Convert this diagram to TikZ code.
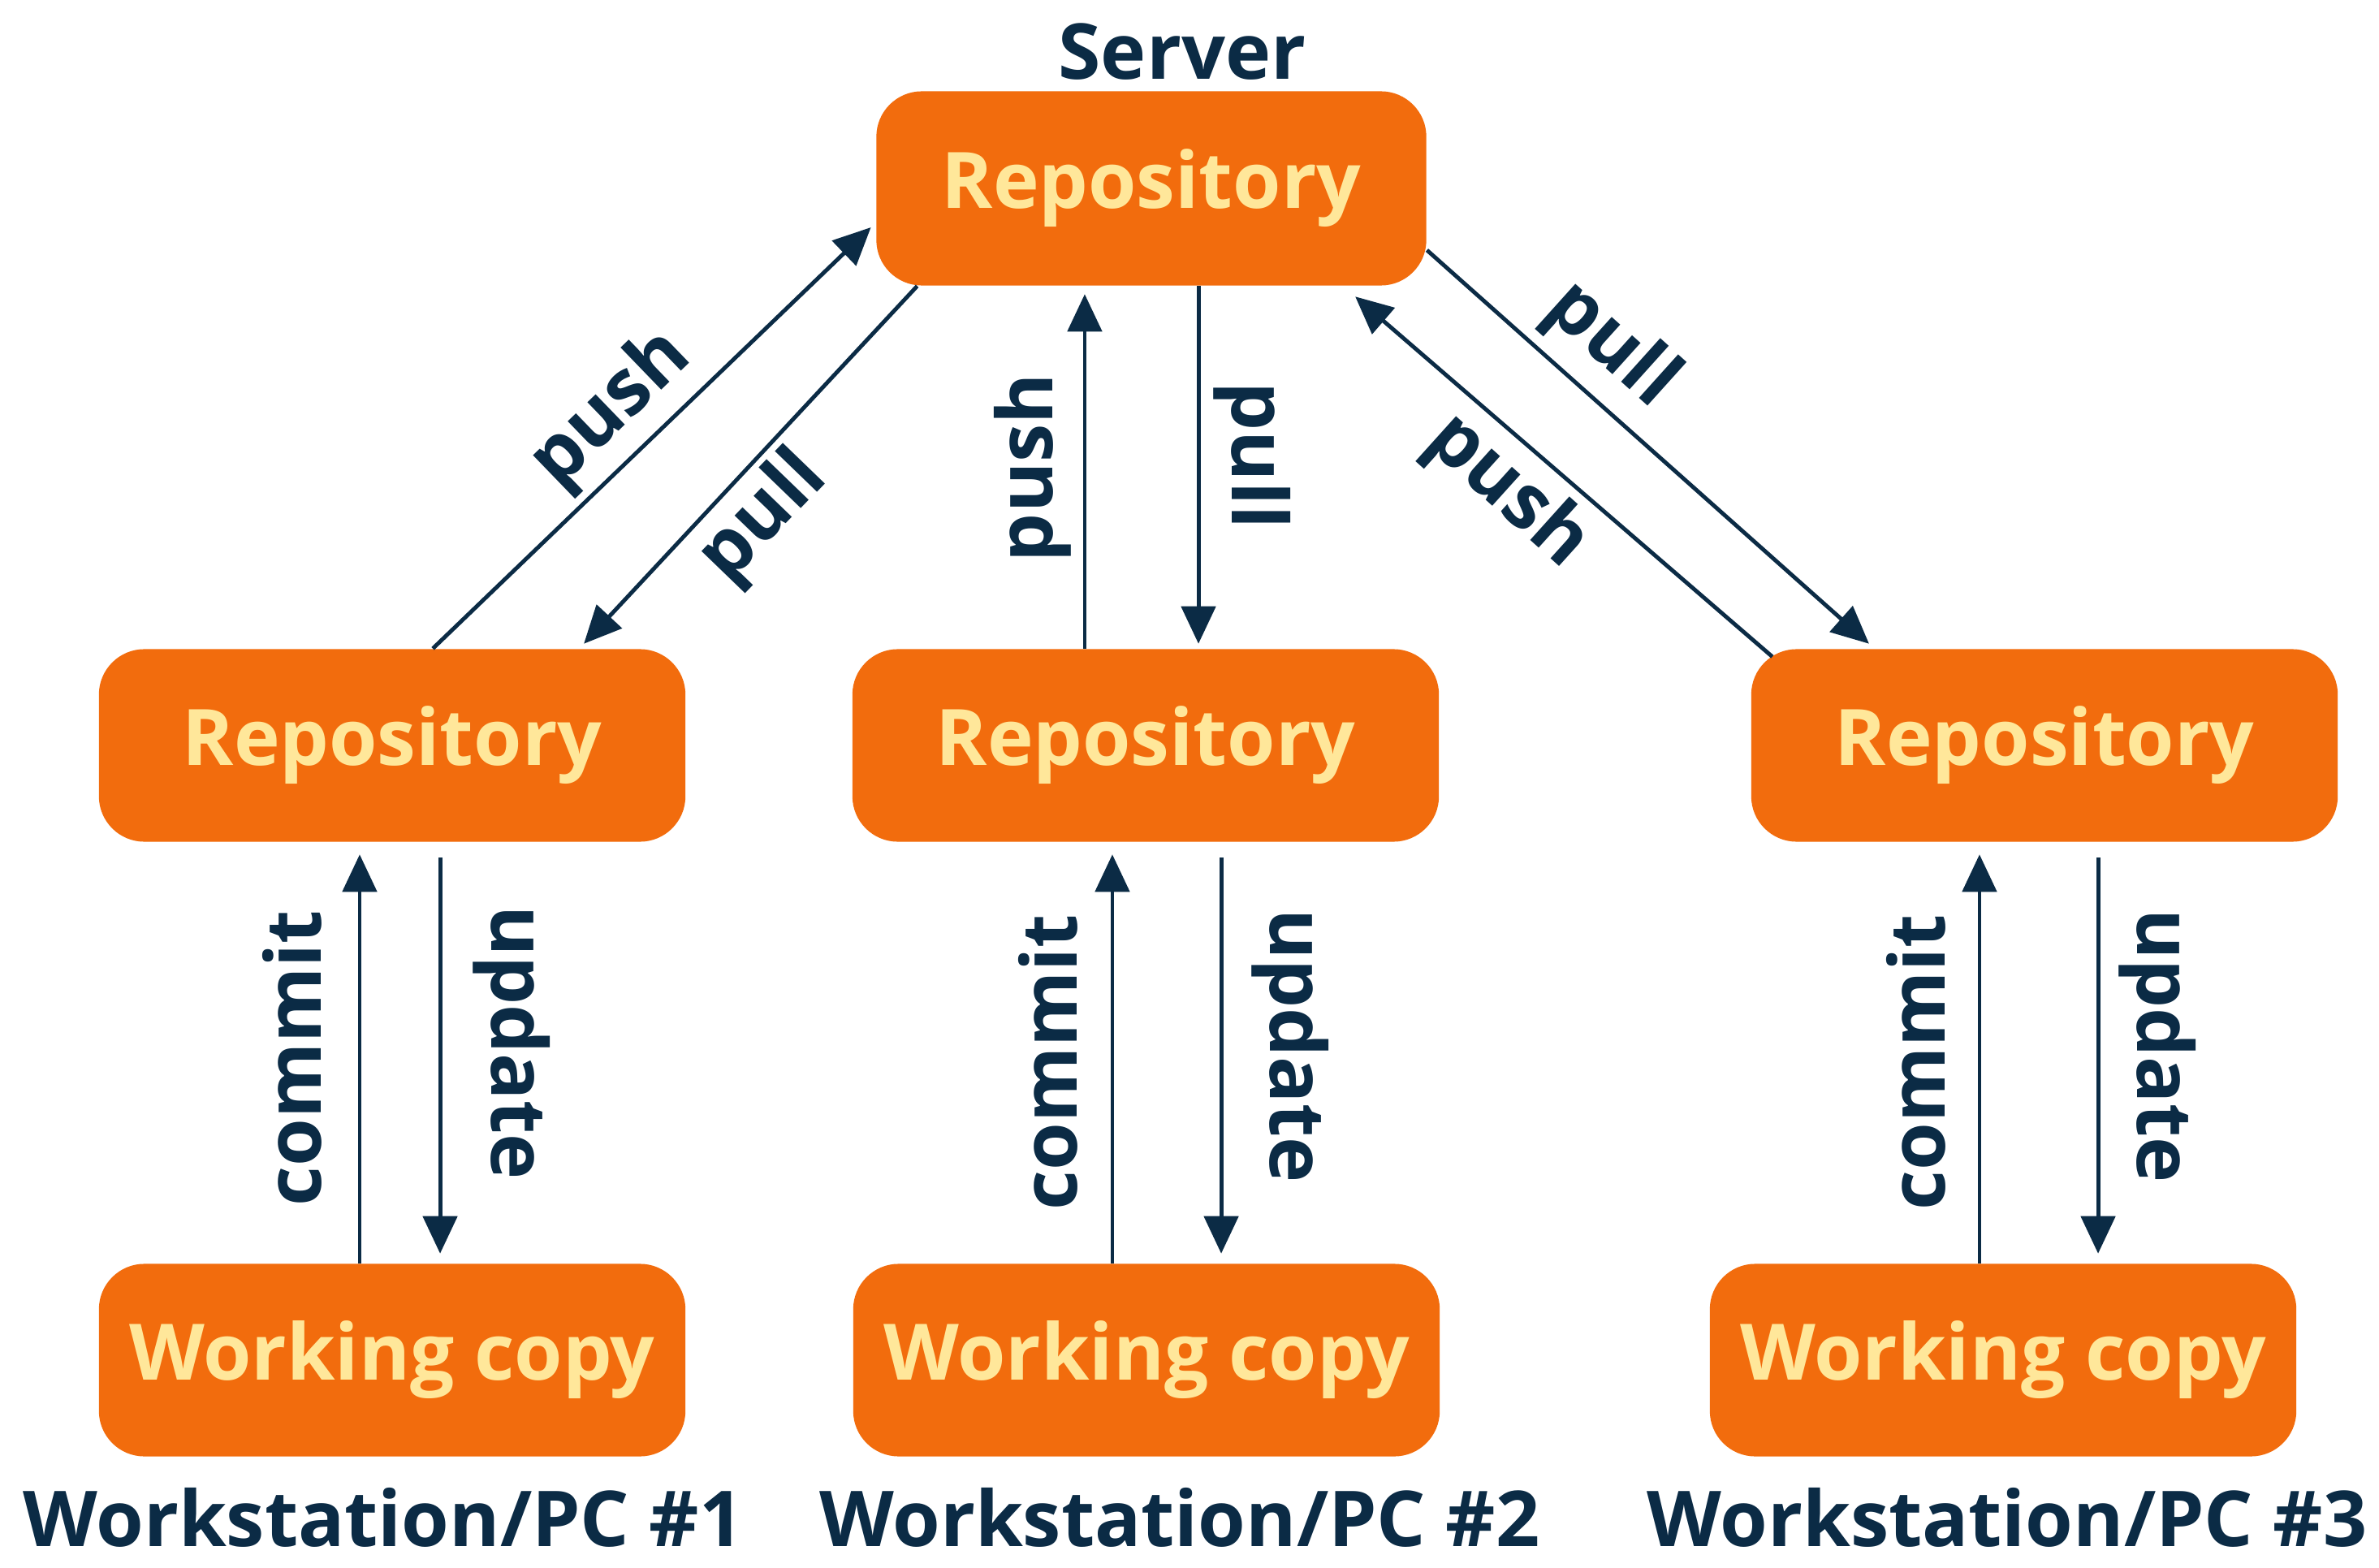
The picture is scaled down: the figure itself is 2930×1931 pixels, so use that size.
\documentclass[tikz,border=0pt]{standalone}
\usepackage{fontspec}
\setmainfont{Open Sans}
\usetikzlibrary{arrows.meta}
\definecolor{boxorange}{HTML}{F26C0D}
\definecolor{boxtext}{HTML}{FFE79A}
\definecolor{ink}{HTML}{0B2B45}

\begin{document}
\begin{tikzpicture}[x=0.01cm,y=-0.01cm,
  box/.style={fill=boxorange, rounded corners=0.56cm, minimum width=7.22cm,
    minimum height=2.37cm, inner sep=0pt, text=boxtext,
    font=\bfseries\fontsize{27.3}{30}\selectfont},
  caption/.style={text=ink, inner sep=0pt, anchor=base,
    font=\bfseries\fontsize{27}{30}\selectfont},
  lbl/.style={text=ink, inner sep=0pt,
    font=\bfseries\fontsize{27}{30}\selectfont},
  flow/.style={draw=ink, line width=1.4pt,
    -{Triangle[length=0.46cm,width=0.42cm]}}
]
\useasboundingbox (0,0) rectangle (2930,1931);
\fill[white] (0,0) rectangle (2930,1931);

% central repository on the server
\node[caption] (srvcap) at (1456,98) {Server};
\node[box, minimum width=6.77cm, minimum height=2.39cm] (srv) at (1418,232) {Repository};

% local repositories
\node[box] (r1) at (483,918) {Repository};
\node[box] (r2) at (1411,918) {Repository};
\node[box] (r3) at (2518,918) {Repository};

% working copies
\node[box] (w1) at (483,1675) {Working copy};
\node[box] (w2) at (1412,1675) {Working copy};
\node[box] (w3) at (2467,1675) {Working copy};

% workstation captions
\node[caption] (pc1) at (472,1904) {Workstation/PC \#1};
\node[caption] (pc2) at (1453,1904) {Workstation/PC \#2};
\node[caption] (pc3) at (2472,1904) {Workstation/PC \#3};

% push / pull between server and local repositories
\draw[flow] ([xshift=0.5cm]r1.north) -- ([xshift=-0.06cm,yshift=-0.48cm]srv.west);
\draw[flow] ([xshift=0.51cm]srv.south west) -- ([xshift=2.36cm,yshift=0.06cm]r1.north);

\draw[flow, shorten >=0.1cm] ([xshift=-0.75cm]r2.north) -- ([xshift=-0.75cm]r2.north |- srv.south);
\draw[flow] ([xshift=0.65cm]r2.north |- srv.south) -- ([xshift=0.65cm,yshift=0.06cm]r2.north);

\draw[flow] ([yshift=-0.76cm]srv.east) -- ([xshift=-2.16cm,yshift=0.06cm]r3.north);
\draw[flow] ([xshift=-3.35cm,yshift=-0.1cm]r3.north) -- ([xshift=2.51cm,yshift=-0.13cm]srv.south);

% commit / update between working copies and local repositories
\draw[flow, shorten >=0.15cm] ([xshift=-0.4cm]r1.south |- w1.north) -- ([xshift=-0.4cm]r1.south);
\draw[flow, shorten <=0.19cm, shorten >=0.12cm] ([xshift=0.59cm]r1.south) -- ([xshift=0.59cm]r1.south |- w1.north);

\draw[flow, shorten >=0.15cm] ([xshift=-0.41cm]r2.south |- w2.north) -- ([xshift=-0.41cm]r2.south);
\draw[flow, shorten <=0.19cm, shorten >=0.12cm] ([xshift=0.93cm]r2.south) -- ([xshift=0.93cm]r2.south |- w2.north);

\draw[flow, shorten >=0.15cm] ([xshift=-0.8cm]r3.south |- w3.north) -- ([xshift=-0.8cm]r3.south);
\draw[flow, shorten <=0.19cm, shorten >=0.12cm] ([xshift=0.66cm]r3.south) -- ([xshift=0.66cm]r3.south |- w3.north);

% arrow labels
\node[lbl, rotate=44] (push1) at (754,505) {push};
\node[lbl, rotate=46] (pull1) at (941,638) {pull};
\node[lbl, rotate=90] (push2) at (1272,576) {push};
\node[lbl, rotate=-90] (pull2) at (1542,561) {pull};
\node[lbl, rotate=-42] (pull3) at (1984,426) {pull};
\node[lbl, rotate=-42] (push3) at (1856,606) {push};

\node[lbl, rotate=90] (commit1) at (360,1303) {commit};
\node[lbl, rotate=-90] (update1) at (630,1284) {update};
\node[lbl, rotate=90] (commit2) at (1291,1308) {commit};
\node[lbl, rotate=-90] (update2) at (1589,1288) {update};
\node[lbl, rotate=90] (commit3) at (2360,1308) {commit};
\node[lbl, rotate=-90] (update3) at (2657,1288) {update};
\end{tikzpicture}
\end{document}
